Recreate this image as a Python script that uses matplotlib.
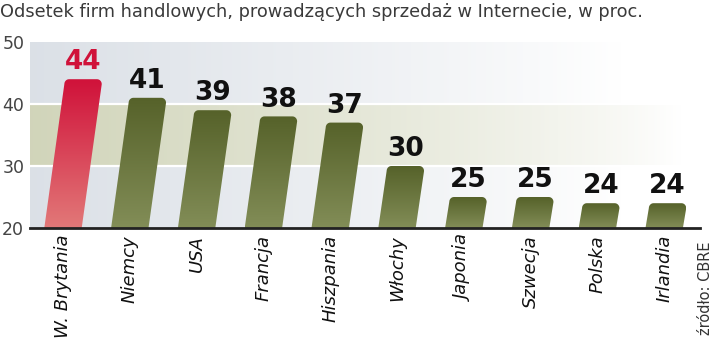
import numpy as np
import matplotlib
matplotlib.use("Agg")
import matplotlib.pyplot as plt
from matplotlib.path import Path
from matplotlib.patches import PathPatch
from matplotlib.colors import LinearSegmentedColormap

countries = ["W. Brytania", "Niemcy", "USA", "Francja", "Hiszpania",
             "Włochy", "Japonia", "Szwecja", "Polska", "Irlandia"]
values = [44, 41, 39, 38, 37, 30, 25, 25, 24, 24]
yticks = [20, 30, 40, 50]
title = "Odsetek firm handlowych, prowadzących sprzedaż w Internecie, w proc."
source = "źródło: CBRE"

fig = plt.figure(figsize=(7.2, 3.45), dpi=100)
ax = fig.add_axes([30 / 720, 117 / 345, 670 / 720, 186 / 345])
ymin, ymax = 20, 50
xlo, xhi = -0.494, 9.536
ax.set_xlim(xlo, xhi)
ax.set_ylim(ymin, ymax)

# background: gray fading to white, olive band between 30 and 40
w = 300
xs = np.linspace(0, 1, w)
white = np.array([1.0, 1.0, 1.0])
gray = np.array([0.86, 0.88, 0.905])
olive = np.array([0.82, 0.835, 0.73])
fade_gray = np.clip(1 - xs / 0.88, 0, 1) ** 0.9
fade_olive = np.clip(1 - xs / 0.97, 0, 1) ** 0.8
row_gray = white + (gray - white) * fade_gray[:, None]
row_olive = white + (olive - white) * fade_olive[:, None]
for lo, hi, row in [(20, 30, row_gray), (30, 40, row_olive), (40, 50, row_gray)]:
    ax.imshow(row[None, :, :], extent=[xlo, xhi, lo, hi], aspect="auto",
              zorder=0, interpolation="bilinear")
for g in [30, 40]:
    ax.axhline(g, color="white", lw=1.6, zorder=0.5)

# slanted bars with rounded top corners and vertical gradient
width = 0.56
slant = 0.0125  # x shift per y unit
rx, ry = 0.07, 0.8
green_cmap = LinearSegmentedColormap.from_list("g", ["#828d57", "#56622a"])
red_cmap = LinearSegmentedColormap.from_list("r", ["#e27878", "#d0123a"])

for i, v in enumerate(values):
    x0 = i - width / 2
    sh = (v - ymin) * slant
    t = np.linspace(0, np.pi / 2, 8)
    verts = [(x0, ymin), (x0 + width, ymin)]
    cx, cy = x0 + width + sh - rx, v - ry
    verts += [(cx + rx * np.cos(a), cy + ry * np.sin(a)) for a in t]
    cx, cy = x0 + sh + rx, v - ry
    verts += [(cx - rx * np.sin(a), cy + ry * np.cos(a)) for a in t]
    verts.append((x0, ymin))
    patch = PathPatch(Path(verts, closed=True), facecolor="none", edgecolor="none")
    ax.add_patch(patch)
    cmap = red_cmap if i == 0 else green_cmap
    grad = np.linspace(0, 1, 100)[:, None]
    im = ax.imshow(grad, cmap=cmap, origin="lower", aspect="auto",
                   extent=[x0, x0 + width + sh, ymin, v], zorder=2,
                   interpolation="bilinear")
    im.set_clip_path(patch)
    ax.text(i + sh, v + 0.6, str(v), ha="center", va="bottom",
            fontsize=19, fontweight="bold",
            family=["Liberation Sans Narrow", "DejaVu Sans"],
            color="#d0123a" if i == 0 else "#111111", zorder=3)

for s in ["left", "right", "top"]:
    ax.spines[s].set_visible(False)
ax.spines["bottom"].set_linewidth(2)
ax.spines["bottom"].set_color("#222222")
ax.spines["bottom"].set_zorder(4)
ax.set_xticks(range(len(countries)))
ax.set_xticklabels(countries, rotation=90, fontsize=13, style="italic",
                   va="top", ha="center", color="#111111")
ax.tick_params(axis="x", length=0, pad=5)
ax.set_yticks(yticks)
ax.set_yticklabels([str(y) for y in yticks], fontsize=12.5, color="#444444",
                   ha="left")
ax.tick_params(axis="y", length=0, pad=20)

fig.text(0.0, 1 - 12 / 345, title, fontsize=12.8, color="#3a3a3a",
         ha="left", va="center")
fig.text(706 / 720, 1 - 288 / 345, source, fontsize=10.5, color="#333333",
         rotation=90, ha="center", va="center")

fig.savefig("out.png", dpi=100)
